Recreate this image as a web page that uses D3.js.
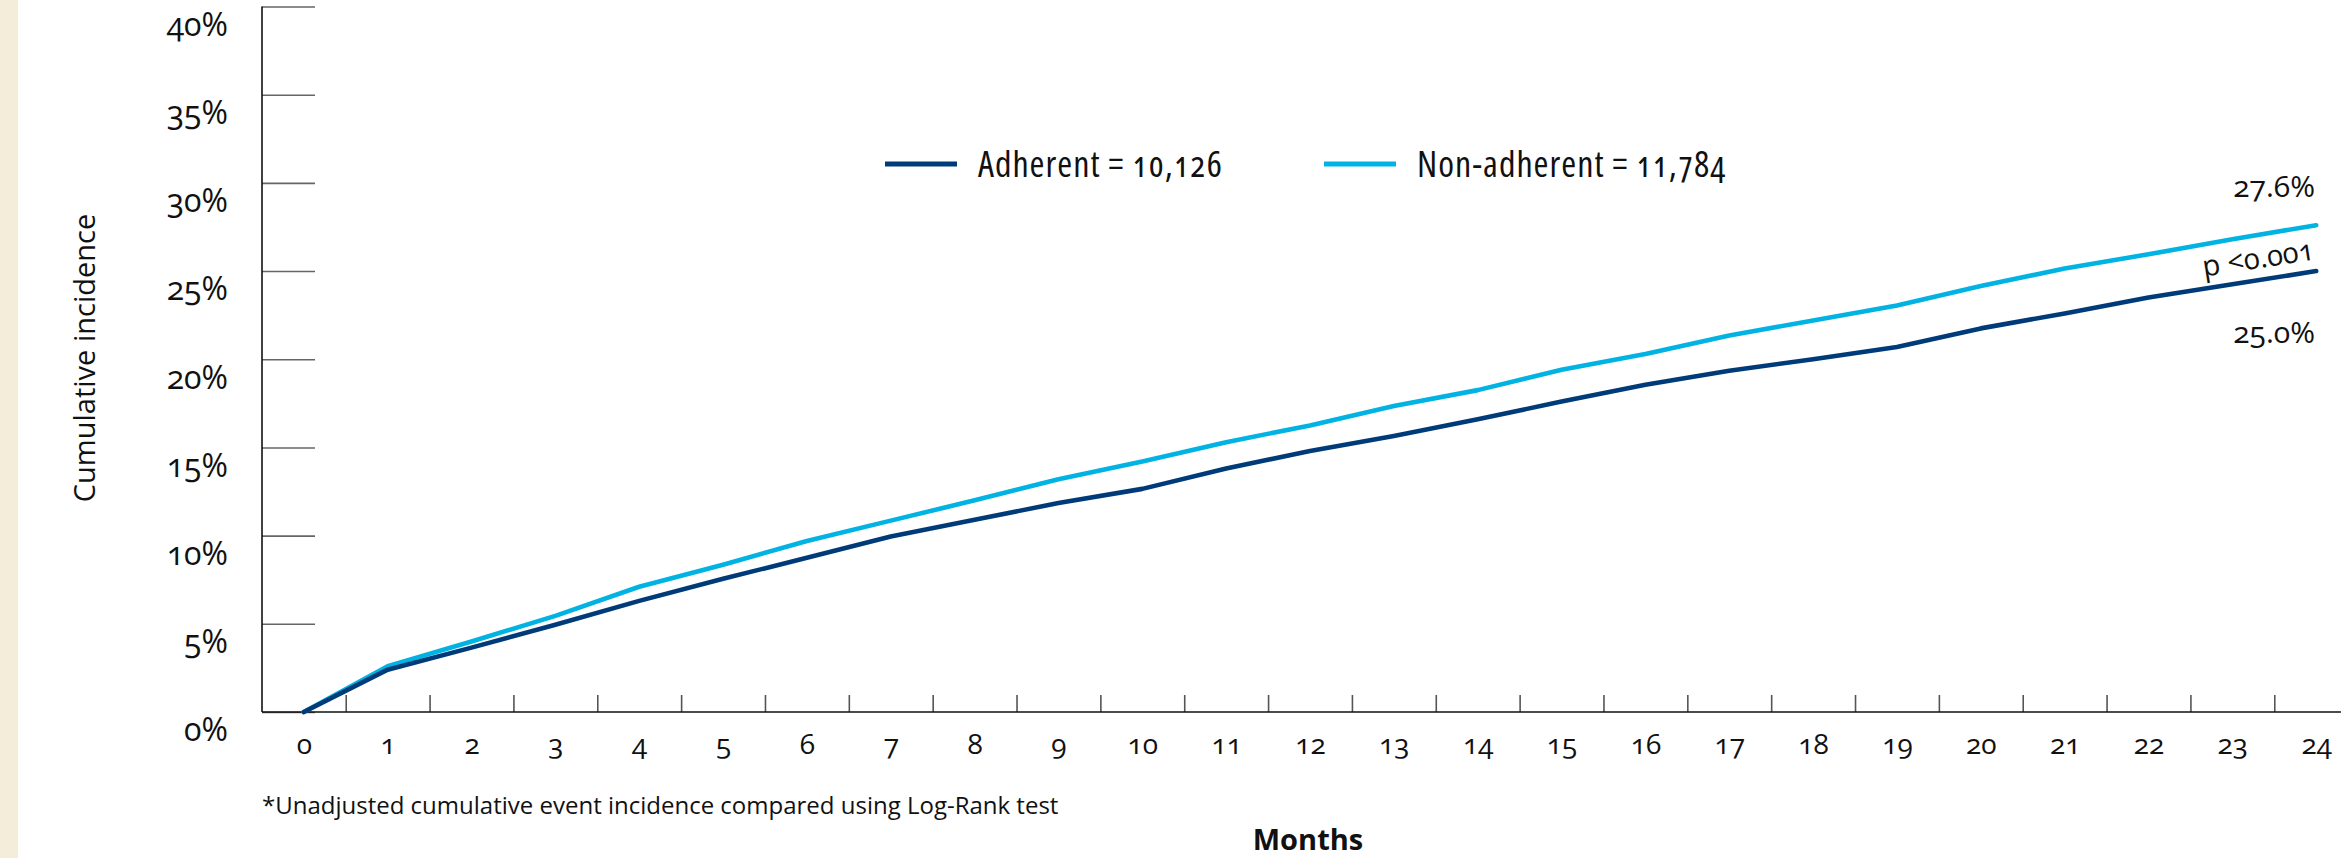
<!DOCTYPE html>
<html>
<head>
<meta charset="utf-8">
<script src="https://cdn.jsdelivr.net/npm/d3@7"></script>
<style>
  html, body { margin: 0; padding: 0; background: #fff; }
  svg { display: block; }
  .num { font-family: "Open Sans", "Lato", sans-serif; font-variant-numeric: oldstyle-nums; font-feature-settings: "onum" 1; }
  .cond { font-family: "Open Sans", sans-serif; font-stretch: 75%; letter-spacing: 1px; font-variant-numeric: oldstyle-nums; font-feature-settings: "onum" 1; }
  .plain { font-family: "Open Sans", sans-serif; }
</style>
</head>
<body>
<svg id="chart" width="2341" height="858"></svg>
<script>
// ---- data ----
const months = d3.range(0, 25);
const adherent    = [0, 2.4, 3.65, 4.95, 6.3, 7.55, 8.75, 9.95, 10.9, 11.85, 12.65, 13.8, 14.8, 15.65, 16.6, 17.6, 18.55, 19.35, 20.0, 20.7, 21.75, 22.6, 23.5, 24.25, 25.0];
const nonAdherent = [0, 2.6, 4.0, 5.45, 7.1, 8.35, 9.7, 10.85, 12.0, 13.2, 14.2, 15.3, 16.25, 17.35, 18.25, 19.4, 20.3, 21.35, 22.2, 23.05, 24.15, 25.15, 25.95, 26.8, 27.6];
const yTicks = [0, 5, 10, 15, 20, 25, 30, 35, 40];
const seriesNames = ["Adherent = 10,126", "Non-adherent = 11,784"];
const endLabels = ["25.0%", "27.6%"];
const pLabel = "p <0.001";
const yTitle = "Cumulative incidence";
const xTitle = "Months";
const footnote = "*Unadjusted cumulative event incidence compared using Log-Rank test";

const colDark = "#003b79";
const colLight = "#00b3e3";

const svg = d3.select("#chart");

// beige stripe
svg.append("rect").attr("x", 0).attr("y", 0).attr("width", 18).attr("height", 858).attr("fill", "#f3edd9");

const x = d3.scaleLinear().domain([0, 24]).range([303.8, 2316.2]);
const y = d3.scaleLinear().domain([0, 40]).range([712, 6.5]);
const axisX0 = 262;

// y axis (ticks inward)
const yAxis = svg.append("g").attr("transform", `translate(${axisX0},0)`)
  .call(d3.axisLeft(y).tickValues(yTicks).tickSize(-53).tickFormat(d => d + "%"));
yAxis.select(".domain").remove();
yAxis.selectAll(".tick line").attr("stroke", "#666").attr("stroke-width", 1.6);
yAxis.selectAll(".tick text")
  .attr("class", "num")
  .attr("x", -34).attr("dy", "0.9em")
  .attr("font-size", 32).attr("fill", "#111").attr("font-weight", 400);
svg.append("line").attr("x1", axisX0).attr("x2", axisX0).attr("y1", y(40)).attr("y2", y(0))
  .attr("stroke", "#111").attr("stroke-width", 1.6);

// x axis: labels
const xAxis = svg.append("g").attr("transform", `translate(0,${y(0)})`)
  .call(d3.axisBottom(x).tickValues(months).tickSize(0).tickFormat(d3.format("d")));
xAxis.select(".domain").remove();
xAxis.selectAll(".tick text").attr("class", "num").attr("y", 22).attr("dy", "0.71em")
  .attr("font-size", 28).attr("fill", "#111");
// x axis: tick marks between months (inward)
const halfTicks = d3.range(0, 24).map(d => d + 0.5);
const xTickG = svg.append("g").attr("transform", `translate(0,${y(0)})`)
  .call(d3.axisTop(x).tickValues(halfTicks).tickSize(17).tickFormat(""));
xTickG.select(".domain").remove();
xTickG.selectAll(".tick line").attr("stroke", "#555").attr("stroke-width", 1.6);
svg.append("line").attr("x1", axisX0).attr("x2", 2341).attr("y1", y(0)).attr("y2", y(0))
  .attr("stroke", "#111").attr("stroke-width", 1.6);

// lines
const line = d3.line().x((d, i) => x(months[i])).y(d => y(d));
svg.append("path").datum(nonAdherent).attr("d", line).attr("fill", "none")
  .attr("stroke", colLight).attr("stroke-width", 4.6).attr("stroke-linejoin", "round").attr("stroke-linecap", "round");
svg.append("path").datum(adherent).attr("d", line).attr("fill", "none")
  .attr("stroke", colDark).attr("stroke-width", 4.6).attr("stroke-linejoin", "round").attr("stroke-linecap", "round");

// end labels
svg.append("text").attr("class", "num").attr("x", 2315).attr("y", y(nonAdherent[24]) - 28)
  .attr("text-anchor", "end").attr("font-size", 30).attr("fill", "#111").text(endLabels[1]);
svg.append("text").attr("class", "num").attr("x", 2315).attr("y", y(adherent[24]) + 72)
  .attr("text-anchor", "end").attr("font-size", 30).attr("fill", "#111").text(endLabels[0]);
svg.append("text").attr("class", "num")
  .attr("transform", `translate(2258,258) rotate(-9)`)
  .attr("text-anchor", "middle").attr("dy", "0.35em").attr("font-size", 29).attr("fill", "#111").text(pLabel);

// legend
const legend = [
  { name: seriesNames[0], color: colDark, x: 885 },
  { name: seriesNames[1], color: colLight, x: 1324 }
];
const lg = svg.append("g").attr("transform", "translate(0,164)");
legend.forEach(l => {
  lg.append("line").attr("x1", l.x).attr("x2", l.x + 72).attr("y1", 0).attr("y2", 0)
    .attr("stroke", l.color).attr("stroke-width", 5);
  lg.append("text").attr("class", "cond").attr("x", l.x + 93).attr("y", 0).attr("dy", "0.36em")
    .attr("font-size", 36).attr("fill", "#111").text(l.name);
});

// y title
svg.append("text").attr("transform", "translate(85,358) rotate(-90)")
  .attr("text-anchor", "middle").attr("dy", "0.35em")
  .attr("font-family", "Open Sans, sans-serif").attr("font-size", 29).attr("fill", "#111").text(yTitle);

// footnote
svg.append("text").attr("class", "plain").attr("x", 262).attr("y", 806).attr("dy", "0.35em")
  .attr("font-size", 24).attr("fill", "#111").text(footnote);

// x title
svg.append("text").attr("x", 1308).attr("y", 840).attr("dy", "0.35em").attr("text-anchor", "middle")
  .attr("class", "plain").attr("font-weight", "bold").attr("font-size", 29).attr("fill", "#111").text(xTitle);
</script>
</body>
</html>
